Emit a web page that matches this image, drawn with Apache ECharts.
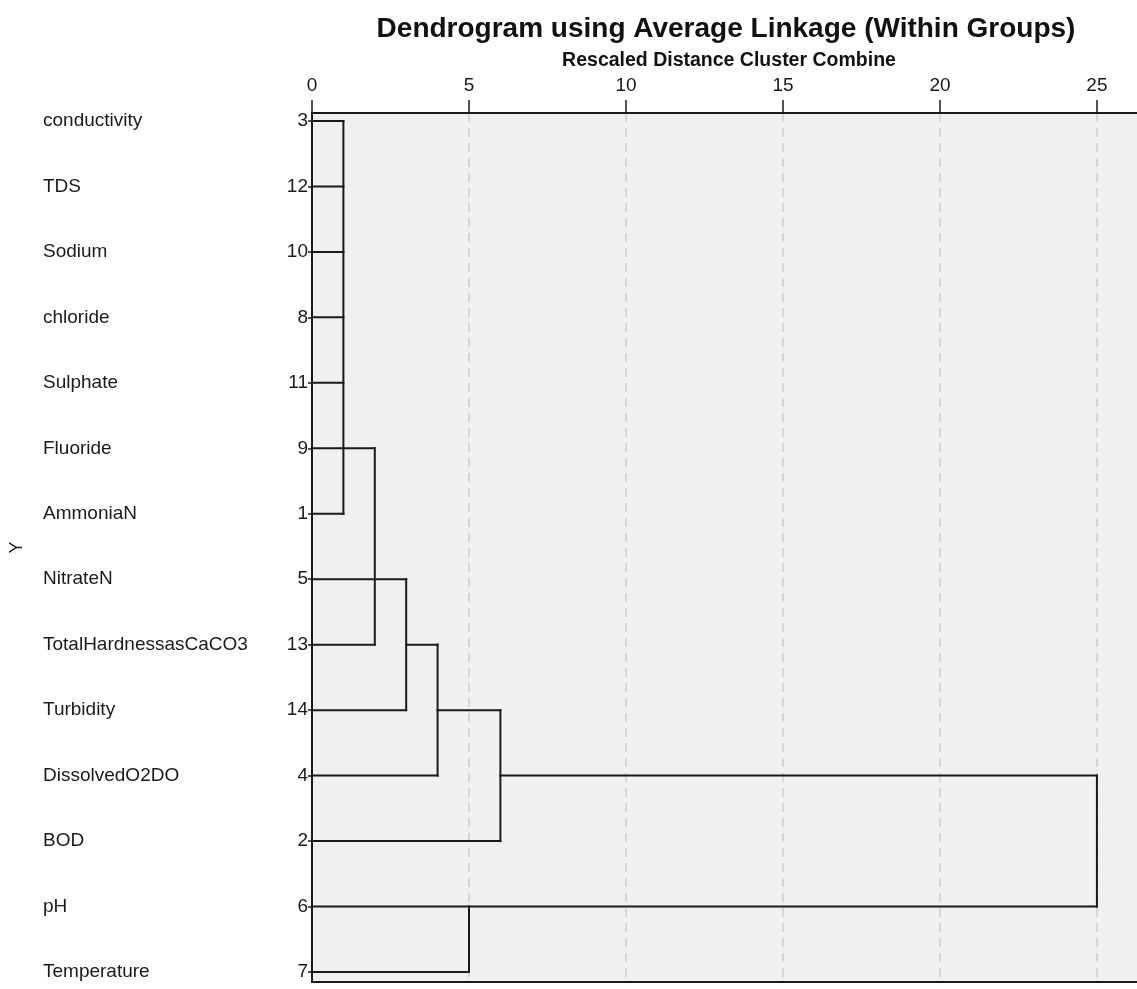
<!DOCTYPE html>
<html>
<head>
<meta charset="utf-8">
<script src="https://cdn.jsdelivr.net/npm/echarts@6/dist/echarts.min.js"></script>
<style>
  html, body { margin: 0; padding: 0; background: #ffffff; }
  #chart { width: 1137px; height: 989px; }
</style>
</head>
<body>
<div id="chart"></div>
<script>
// ---- data ----
const variableNames = ['conductivity', 'TDS', 'Sodium', 'chloride', 'Sulphate', 'Fluoride', 'AmmoniaN',
  'NitrateN', 'TotalHardnessasCaCO3', 'Turbidity', 'DissolvedO2DO', 'BOD', 'pH', 'Temperature'];
const caseNumbers = [3, 12, 10, 8, 11, 9, 1, 5, 13, 14, 4, 2, 6, 7];
// horizontal links: [row index, from distance, to distance]
const horizontalLinks = [
  [0, 0, 1], [1, 0, 1], [2, 0, 1], [3, 0, 1], [4, 0, 1], [5, 0, 2], [6, 0, 1],
  [7, 0, 3], [8, 0, 2], [8, 3, 4], [9, 0, 3], [9, 4, 6], [10, 0, 4], [10, 6, 25],
  [11, 0, 6], [12, 0, 25], [13, 0, 5]
];
// vertical links: [distance, from row index, to row index]
const verticalLinks = [[1, 0, 6], [2, 5, 8], [3, 7, 9], [4, 8, 10], [6, 9, 11], [25, 10, 12], [5, 12, 13]];
const distanceTicks = [0, 5, 10, 15, 20, 25];

// ---- build ----
const FONT = "'Liberation Sans', Arial, sans-serif";
const rowIdx = caseNumbers.map((_, i) => i);
const segs = [];
horizontalLinks.forEach(h => segs.push([h[1], h[0], h[2], h[0]]));
verticalLinks.forEach(v => segs.push([v[0], v[1], v[0], v[2]]));

const chart = echarts.init(document.getElementById('chart'), null, { renderer: 'canvas' });
chart.setOption({
  animation: false,
  backgroundColor: '#ffffff',
  title: [
    {
      text: 'Dendrogram using Average Linkage (Within Groups)',
      left: 726, top: 15, textAlign: 'center', padding: 0,
      textStyle: { fontFamily: FONT, fontSize: 28, fontWeight: 'bold', color: '#111' }
    },
    {
      text: 'Rescaled Distance Cluster Combine',
      left: 729, top: 51, textAlign: 'center', padding: 0,
      textStyle: { fontFamily: FONT, fontSize: 19.5, fontWeight: 'bold', color: '#111' }
    }
  ],
  grid: {
    left: 312, top: 113, right: -2, bottom: 7,
    outerBoundsMode: 'none', containLabel: false,
    show: true, backgroundColor: '#f0f0f0', borderColor: '#1a1a1a', borderWidth: 2
  },
  xAxis: {
    type: 'value', position: 'top', min: 0, max: 26.34, interval: 5,
    axisLine: { show: true, onZero: false, lineStyle: { color: '#1a1a1a', width: 2 } },
    axisTick: { show: true, length: 13, lineStyle: { color: '#1a1a1a', width: 1.5 }, customValues: distanceTicks },
    axisLabel: { customValues: distanceTicks, margin: 18, fontFamily: FONT, fontSize: 19, color: '#1a1a1a' },
    splitLine: { show: true, lineStyle: { color: '#cdcdcd', width: 1.5, type: [9, 6] } }
  },
  yAxis: [
    {
      type: 'value', inverse: true, min: -0.122, max: 13.153, position: 'left',
      axisLine: { show: true, onZero: false, lineStyle: { color: '#1a1a1a', width: 2 } },
      axisTick: { show: true, length: 4, customValues: rowIdx, lineStyle: { color: '#1a1a1a', width: 1.5 } },
      axisLabel: {
        customValues: rowIdx, margin: 4, fontFamily: FONT, fontSize: 19, color: '#1a1a1a',
        formatter: v => String(caseNumbers[Math.round(v)])
      },
      splitLine: { show: false }
    },
    {
      type: 'value', inverse: true, min: -0.122, max: 13.153, position: 'left',
      name: 'Y', nameLocation: 'middle', nameGap: 286, nameRotate: 90,
      nameTextStyle: { fontFamily: FONT, fontSize: 18, color: '#1a1a1a' },
      axisLine: { show: false, onZero: false }, axisTick: { show: false }, splitLine: { show: false },
      axisLabel: {
        customValues: rowIdx, margin: 269, align: 'left', fontFamily: FONT, fontSize: 19, color: '#1a1a1a',
        formatter: v => variableNames[Math.round(v)]
      }
    }
  ],
  series: [{
    type: 'custom',
    coordinateSystem: 'cartesian2d',
    clip: true,
    data: segs,
    encode: { x: [0, 2], y: [1, 3] },
    renderItem: function (params, api) {
      const p1 = api.coord([api.value(0), api.value(1)]);
      const p2 = api.coord([api.value(2), api.value(3)]);
      return {
        type: 'line',
        shape: { x1: p1[0], y1: p1[1], x2: p2[0], y2: p2[1] },
        style: { stroke: '#1a1a1a', lineWidth: 2, lineCap: 'square' }
      };
    }
  }]
});
</script>
</body>
</html>
